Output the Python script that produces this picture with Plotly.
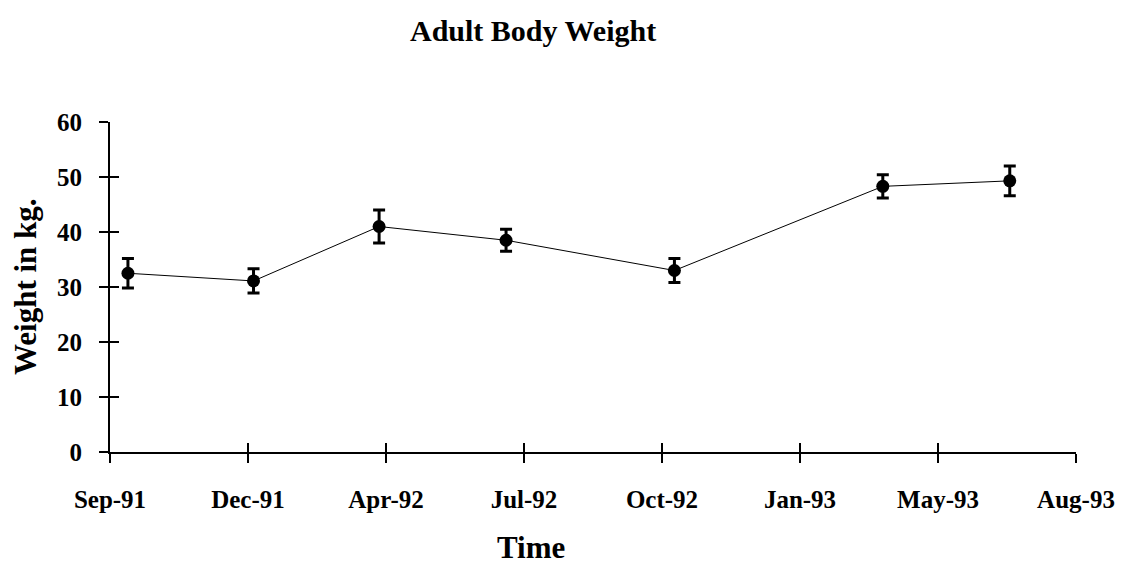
import numpy as np
import pandas as pd
import plotly.graph_objects as go

# Sampling dates and mean adult body weight (kg) with error
sample_dates = ["1991-09-28", "1991-12-28", "1992-03-28", "1992-06-28",
                "1992-10-28", "1993-03-28", "1993-06-28"]
weight_kg = [32.5, 31.1, 41.0, 38.5, 33.0, 48.3, 49.3]
weight_err = [2.7, 2.2, 3.0, 2.0, 2.2, 2.1, 2.7]

# Date axis: ticks every 100 days starting mid-September 1991
axis_start = "1991-09-15"
tick_step_days = 100
tick_labels = ["Sep-91", "Dec-91", "Apr-92", "Jul-92", "Oct-92",
               "Jan-93", "May-93", "Aug-93"]
y_ticks = [0, 10, 20, 30, 40, 50, 60]

start = pd.Timestamp(axis_start)
tick_dates = [start + pd.Timedelta(days=tick_step_days * i) for i in range(len(tick_labels))]
x_range = [tick_dates[0], tick_dates[-1]]

FONT = "Liberation Serif, Times New Roman, serif"

fig = go.Figure()
fig.add_trace(go.Scatter(
    x=pd.to_datetime(sample_dates), y=weight_kg,
    mode="lines+markers",
    line=dict(color="black", width=1),
    marker=dict(color="black", size=13),
    error_y=dict(type="data", array=weight_err, visible=True,
                 color="black", thickness=3, width=6),
    showlegend=False,
))
# Invisible companion trace so the overlay axes (inner tick halves) are drawn
fig.add_trace(go.Scatter(
    x=pd.to_datetime(sample_dates), y=weight_kg, xaxis="x2", yaxis="y2",
    mode="markers", marker=dict(opacity=0), hoverinfo="skip", showlegend=False,
))

tick_font = dict(family=FONT, size=25, color="black", weight="bold")

fig.update_layout(
    width=1126, height=575,
    margin=dict(l=110, r=50, t=122, b=123),
    paper_bgcolor="white", plot_bgcolor="white",
    xaxis=dict(
        type="date", range=x_range,
        tickmode="array", tickvals=tick_dates, ticktext=tick_labels,
        ticks="outside", ticklen=9, tickwidth=2, tickcolor="black",
        showline=True, linecolor="black", linewidth=2,
        showgrid=False, zeroline=False,
        tickfont=tick_font, ticklabelstandoff=15,
    ),
    xaxis2=dict(
        type="date", overlaying="x", matches="x", anchor="y",
        tickmode="array", tickvals=tick_dates,
        ticks="inside", ticklen=9, tickwidth=2, tickcolor="black",
        showticklabels=False, showline=False, showgrid=False, zeroline=False,
    ),
    yaxis=dict(
        range=[0, 60], tickmode="array", tickvals=y_ticks,
        ticks="outside", ticklen=9, tickwidth=2, tickcolor="black",
        showline=True, linecolor="black", linewidth=2,
        showgrid=False, zeroline=False,
        tickfont=tick_font, ticklabelstandoff=12,
    ),
    yaxis2=dict(
        range=[0, 60], overlaying="y", matches="y", anchor="x", side="left",
        tickmode="array", tickvals=y_ticks,
        ticks="inside", ticklen=9, tickwidth=2, tickcolor="black",
        showticklabels=False, showline=False, showgrid=False, zeroline=False,
    ),
    annotations=[
        dict(text="<b>Adult Body Weight</b>", xref="paper", yref="paper",
             x=(533 - 110) / 966, y=1 + (122 - 30) / 330,
             xanchor="center", yanchor="middle", showarrow=False,
             font=dict(family=FONT, size=30, color="black")),
        dict(text="<b>Time</b>", xref="paper", yref="paper",
             x=(531 - 110) / 966, y=-(547 - 452) / 330,
             xanchor="center", yanchor="middle", showarrow=False,
             font=dict(family=FONT, size=31, color="black")),
        dict(text="<b>Weight in kg.</b>", xref="paper", yref="paper",
             x=-(110 - 25) / 966, y=0.5, textangle=-90,
             xanchor="center", yanchor="middle", showarrow=False,
             font=dict(family=FONT, size=31, color="black")),
    ],
)

fig.write_html("out.html")
